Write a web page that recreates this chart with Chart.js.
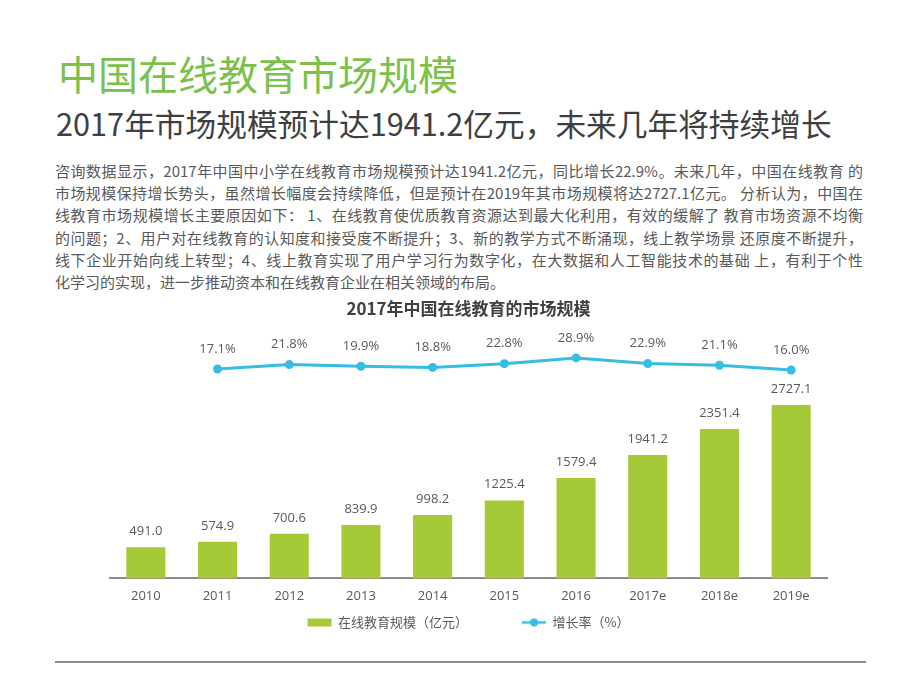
<!DOCTYPE html>
<html lang="zh-CN">
<head>
<meta charset="utf-8">
<title>中国在线教育市场规模</title>
<script src="https://cdn.jsdelivr.net/npm/chart.js@4.4.1/dist/chart.umd.min.js"></script>
<style>
    html, body { margin: 0; padding: 0; background: #fff; }
    body { width: 920px; height: 690px; position: relative; overflow: hidden; font-family: "Noto Sans CJK SC", sans-serif; }
    .headline { position: absolute; left: 58px; top: 48px; font-size: 40px; line-height: 50px; color: #7cc14b; white-space: nowrap; }
    .subline { position: absolute; left: 56px; top: 103px; font-size: 30.7px; line-height: 40px; color: #3f3f3f; white-space: nowrap; }
    .intro { position: absolute; left: 55px; top: 160px; width: 808px; font-size: 15px; line-height: 22.2px; color: #595959; }
    .intro .full { text-align: justify; text-align-last: justify; }
    .chartBox { position: absolute; left: 0; top: 290px; width: 920px; height: 349px; }
    .rule { position: absolute; left: 55px; top: 661px; width: 811px; height: 2px; background: #8c8c8c; }
</style>
</head>
<body>
<div class="headline">中国在线教育市场规模</div>
<div class="subline">2017年市场规模预计达1941.2亿元，未来几年将持续增长</div>
<div class="intro">
    <div class="full">咨询数据显示，2017年中国中小学在线教育市场规模预计达1941.2亿元，同比增长22.9%。未来几年，中国在线教育 的</div>
    <div class="full">市场规模保持增长势头，虽然增长幅度会持续降低，但是预计在2019年其市场规模将达2727.1亿元。 分析认为，中国在</div>
    <div class="full">线教育市场规模增长主要原因如下： 1、在线教育使优质教育资源达到最大化利用，有效的缓解了 教育市场资源不均衡</div>
    <div class="full">的问题；2、用户对在线教育的认知度和接受度不断提升；3、新的教学方式不断涌现，线上教学场景 还原度不断提升，</div>
    <div class="full">线下企业开始向线上转型；4、线上教育实现了用户学习行为数字化，在大数据和人工智能技术的基础 上，有利于个性</div>
    <div>化学习的实现，进一步推动资本和在线教育企业在相关领域的布局。</div>
</div>
<div class="chartBox"><canvas id="marketChart"></canvas></div>
<div class="rule"></div>

<script>
const years = ['2010', '2011', '2012', '2013', '2014', '2015', '2016', '2017e', '2018e', '2019e'];
const marketSize = [491.0, 574.9, 700.6, 839.9, 998.2, 1225.4, 1579.4, 1941.2, 2351.4, 2727.1];
const growthRate = [null, 17.1, 21.8, 19.9, 18.8, 22.8, 28.9, 22.9, 21.1, 16.0];
const seriesNames = ['在线教育规模（亿元）', '增长率（%）'];
const chartTitle = '2017年中国在线教育的市场规模';

const barColor = '#a6c938';
const lineColor = '#36bde3';
const textColor = '#595959';

Chart.defaults.font.family = '"Open Sans", "Noto Sans CJK SC", sans-serif';
Chart.defaults.color = textColor;

// little line-with-dot marker for the legend
const lineIcon = document.createElement('canvas');
lineIcon.width = 24;
lineIcon.height = 10;
(function () {
    var c = lineIcon.getContext('2d');
    c.strokeStyle = lineColor;
    c.lineWidth = 2.5;
    c.beginPath();
    c.moveTo(0, 5);
    c.lineTo(24, 5);
    c.stroke();
    c.fillStyle = lineColor;
    c.beginPath();
    c.arc(12, 5, 4, 0, Math.PI * 2);
    c.fill();
})();

// value labels above bars and points
const valueLabels = {
    id: 'valueLabels',
    afterDatasetsDraw: function (chart) {
        var ctx = chart.ctx;
        ctx.save();
        ctx.font = '13px "Open Sans", sans-serif';
        ctx.fillStyle = textColor;
        ctx.textAlign = 'center';
        ctx.textBaseline = 'middle';
        chart.getDatasetMeta(0).data.forEach(function (bar, i) {
            ctx.fillText(marketSize[i].toFixed(1), bar.x, bar.y - 16);
        });
        chart.getDatasetMeta(1).data.forEach(function (pt, i) {
            if (growthRate[i] === null) return;
            ctx.fillText(growthRate[i].toFixed(1) + '%', pt.x, pt.y - 20);
        });
        ctx.restore();
    }
};

var ctx = document.getElementById('marketChart').getContext('2d');
var marketChart = new Chart(ctx, {
    type: 'bar',
    data: {
        labels: years,
        datasets: [{
            type: 'bar',
            label: seriesNames[0],
            data: marketSize,
            backgroundColor: barColor,
            barPercentage: 0.545,
            categoryPercentage: 1.0,
            yAxisID: 'y'
        }, {
            type: 'line',
            label: seriesNames[1],
            data: growthRate,
            borderColor: lineColor,
            backgroundColor: lineColor,
            borderWidth: 3,
            pointRadius: 4.5,
            pointBorderWidth: 0,
            pointBackgroundColor: lineColor,
            tension: 0,
            yAxisID: 'y1'
        }]
    },
    options: {
        responsive: true,
        maintainAspectRatio: false,
        animation: false,
        layout: { padding: { left: 110, right: 93, top: 0, bottom: 0 } },
        plugins: {
            tooltip: { enabled: false },
            title: {
                display: true,
                text: chartTitle,
                color: '#404040',
                font: { size: 17, weight: 'bold', family: '"Noto Sans CJK SC", sans-serif' },
                padding: { top: 8, bottom: 21.6 }
            },
            legend: {
                position: 'bottom',
                labels: {
                    usePointStyle: true,
                    pointStyleWidth: 24,
                    boxHeight: 8,
                    padding: 2,
                    color: textColor,
                    font: { size: 13, family: '"Noto Sans CJK SC", sans-serif' },
                    generateLabels: function () {
                        return [
                            // trailing spaces widen the gap between the two items
                            { text: seriesNames[0] + '\u3000\u3000\u3000\u3000\u2002', fillStyle: barColor, strokeStyle: barColor, lineWidth: 0, pointStyle: 'rect', fontColor: textColor, datasetIndex: 0, hidden: false },
                            { text: seriesNames[1], fillStyle: lineColor, strokeStyle: lineColor, lineWidth: 0, pointStyle: lineIcon, fontColor: textColor, datasetIndex: 1, hidden: false }
                        ];
                    }
                }
            }
        },
        scales: {
            x: {
                grid: { display: false, drawTicks: false },
                border: { display: true, color: '#8c8c8c', width: 2 },
                ticks: { color: textColor, font: { size: 13 }, padding: 10 }
            },
            y: { display: false, min: 0, max: 3750 },
            y1: { display: false, min: -206, max: 48 }
        }
    },
    plugins: [valueLabels]
});
</script>
</body>
</html>
